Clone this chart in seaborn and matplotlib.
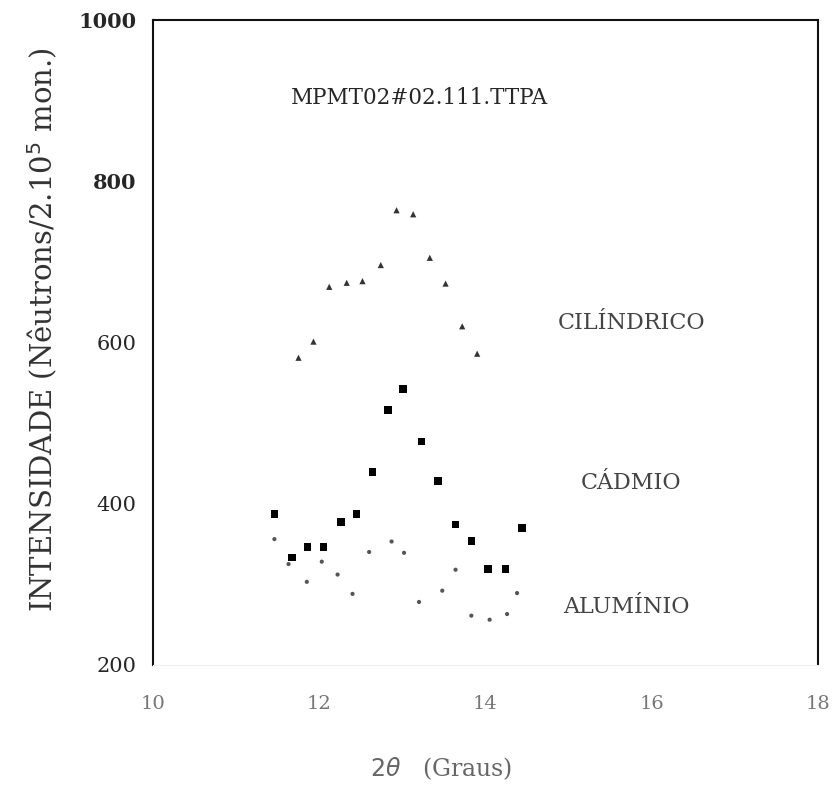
#!/usr/bin/env python3
"""Neutron diffraction scan, peak 111: intensity vs 2-theta for three samples."""

import matplotlib
matplotlib.use("Agg")
import matplotlib.pyplot as plt
import pandas as pd
import seaborn as sns
from matplotlib.ticker import MultipleLocator

# values
CIL_X = [11.75, 11.93, 12.12, 12.33, 12.52, 12.74, 12.93, 13.13, 13.33, 13.52, 13.72, 13.90]
CIL_Y = [581, 601, 669, 674, 676, 696, 764, 759, 705, 673, 620, 586]

CD_X = [11.46, 11.67, 11.86, 12.05, 12.26, 12.45, 12.64, 12.83, 13.01, 13.23,
        13.43, 13.64, 13.83, 14.03, 14.24, 14.44]
CD_Y = [387, 333, 346, 346, 377, 387, 439, 516, 542, 477, 428, 374, 354, 319, 319, 370]

AL_X = [11.46, 11.63, 11.85, 12.03, 12.22, 12.40, 12.60, 12.87, 13.02, 13.20,
        13.48, 13.64, 13.83, 14.05, 14.26, 14.38]
AL_Y = [356, 325, 303, 328, 312, 288, 340, 353, 339, 278, 292, 318, 261, 256, 263, 289]

SERIES = ["CILÍNDRICO", "CÁDMIO", "ALUMÍNIO"]
LABEL_X = [15.76, 15.75, 15.70]
LABEL_Y = [624, 425, 272]

frame = pd.concat([
    pd.DataFrame({"x": CIL_X, "y": CIL_Y, "amostra": SERIES[0]}),
    pd.DataFrame({"x": CD_X, "y": CD_Y, "amostra": SERIES[1]}),
    pd.DataFrame({"x": AL_X, "y": AL_Y, "amostra": SERIES[2]}),
], ignore_index=True)

sns.set_style("white")
plt.rcParams["font.family"] = ["DejaVu Serif", "DejaVu Sans"]

fig = plt.figure(figsize=(8.32, 8.01), dpi=100)
ax = fig.add_axes([0.184, 0.170, 0.799, 0.805])

sns.scatterplot(
    data=frame, x="x", y="y", hue="amostra", style="amostra",
    palette={SERIES[0]: "#333333", SERIES[1]: "#000000", SERIES[2]: "#555555"},
    markers={SERIES[0]: "^", SERIES[1]: "s", SERIES[2]: "o"},
    size="amostra", sizes={SERIES[0]: 20, SERIES[1]: 30, SERIES[2]: 9},
    edgecolor="none", legend=False, ax=ax,
)

ax.set_xlim(10, 18)
ax.set_ylim(200, 1000)
ax.xaxis.set_major_locator(MultipleLocator(2))
ax.xaxis.set_minor_locator(MultipleLocator(1))
ax.yaxis.set_major_locator(MultipleLocator(200))
ax.yaxis.set_minor_locator(MultipleLocator(100))
ax.tick_params(axis="both", which="both", direction="in", color="#444444")
ax.tick_params(axis="both", which="major", length=7, width=1.2)
ax.tick_params(axis="both", which="minor", length=5, width=1.0)
ax.tick_params(axis="x", which="major", labelsize=14, labelcolor="#777777", pad=22)
ax.tick_params(axis="y", which="major", labelsize=15, pad=12)
for lab in ax.get_yticklabels():
    if lab.get_text() in ("1000", "800"):
        lab.set_fontweight("bold")

for side in ["left", "top", "right"]:
    ax.spines[side].set_color("#111111")
    ax.spines[side].set_linewidth(1.5)
ax.spines["bottom"].set_color("#eeeeee")

ax.set_xlabel(r"$2\theta$   (Graus)", fontsize=17, color="#666666")
ax.xaxis.set_label_coords(0.433, -0.14)
ax.set_ylabel("INTENSIDADE (Nêutrons/2.10$^5$ mon.)", fontsize=21, color="#333333")
ax.yaxis.set_label_coords(-0.14, 0.52)

ax.text(13.21, 903, "MPMT02#02.111.TTPA", fontsize=15.5, ha="center", va="center")
for name, lx, ly in zip(SERIES, LABEL_X, LABEL_Y):
    ax.text(lx, ly, name, fontsize=16, ha="center", va="center", color="#444444")

fig.savefig("out.png", dpi=100)
